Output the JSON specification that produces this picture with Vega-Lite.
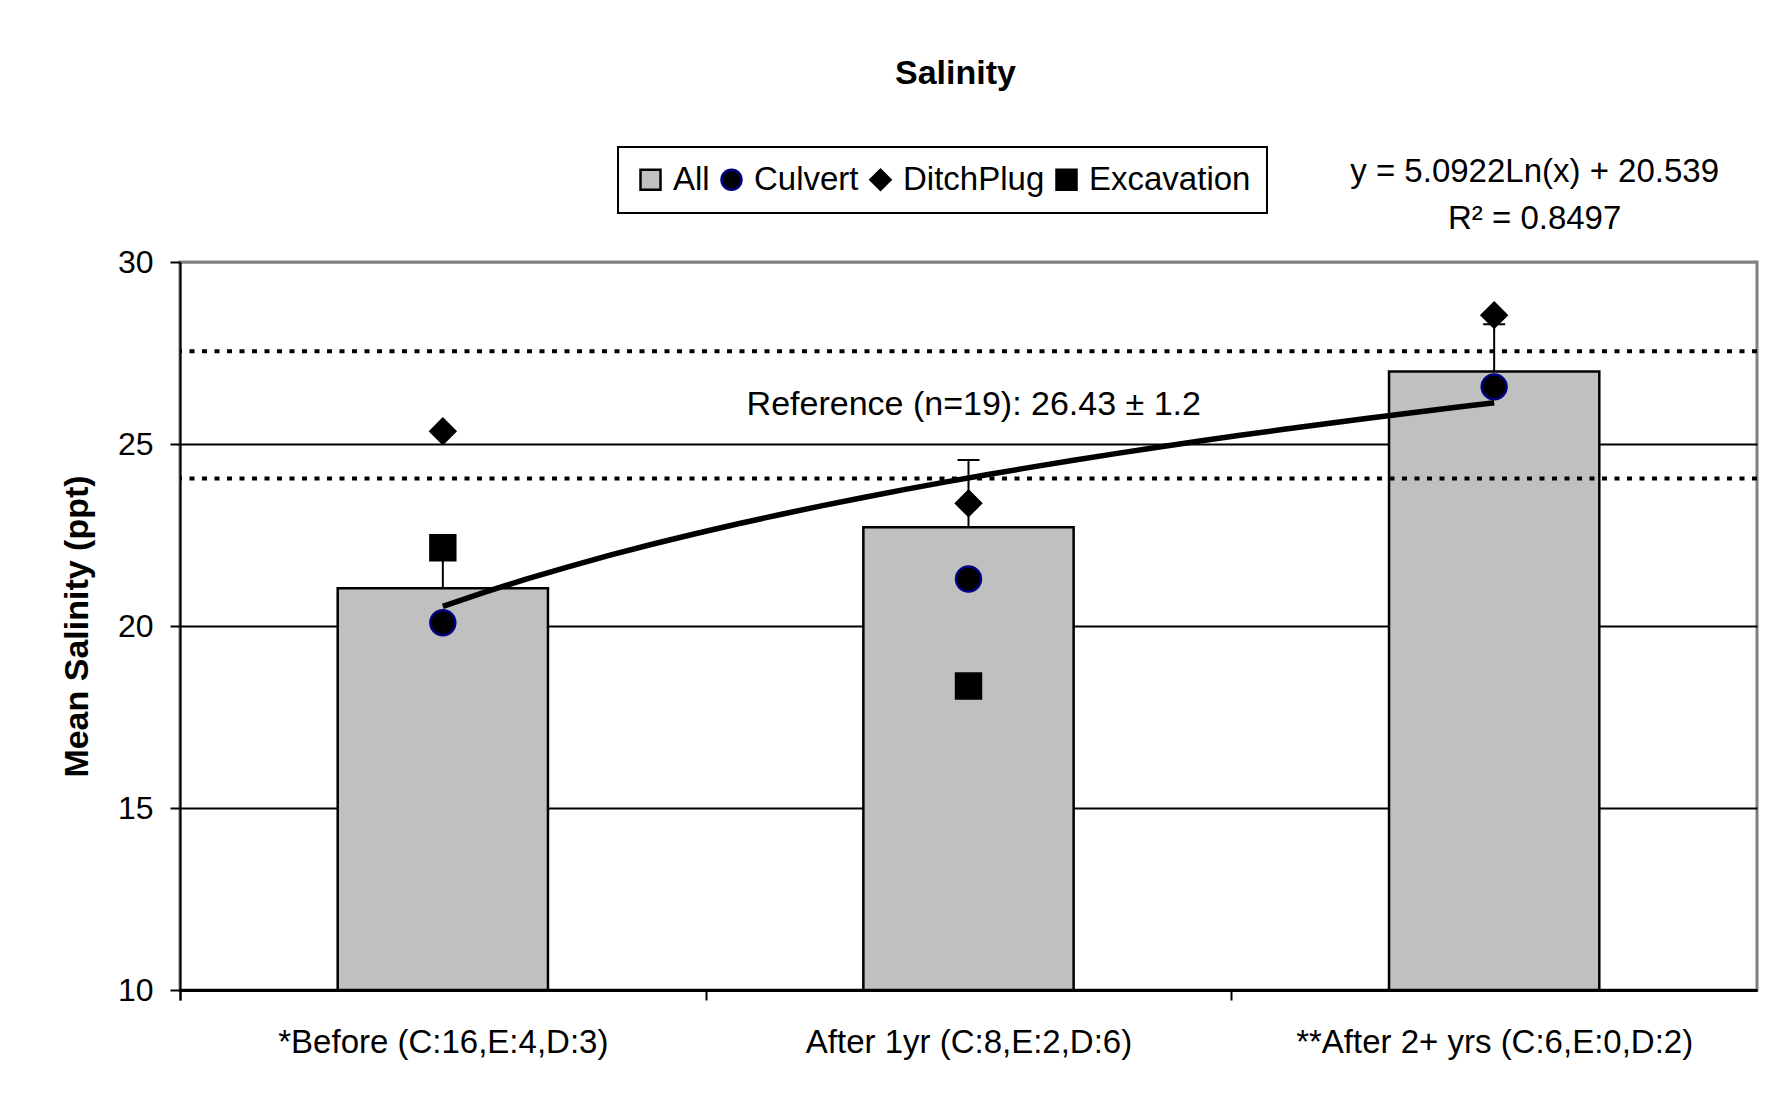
{
  "$schema": "https://vega.github.io/schema/vega-lite/v6.json",
  "width": 1577,
  "height": 728,
  "autosize": {"type": "none"},
  "padding": {"left": 180, "top": 262, "right": 34, "bottom": 112},
  "background": "white",
  "title": {
    "text": "Salinity",
    "font": "Liberation Sans",
    "fontSize": 34,
    "fontWeight": "bold",
    "color": "black",
    "anchor": "middle",
    "frame": "group",
    "offset": 55,
    "dx": -13
  },
  "config": {
    "font": "Liberation Sans",
    "view": {"stroke": "#808080", "strokeWidth": 3, "fill": "white"},
    "axis": {
      "labelFont": "Liberation Sans",
      "titleFont": "Liberation Sans",
      "labelColor": "black",
      "titleColor": "black",
      "domainColor": "black",
      "tickColor": "black",
      "labelFontSize": 32,
      "tickSize": 10,
      "tickWidth": 2,
      "domainWidth": 2
    },
    "legend": {
      "labelFont": "Liberation Sans",
      "labelFontSize": 33,
      "labelColor": "black",
      "labelLimit": 0,
      "symbolSize": 400,
      "symbolStrokeWidth": 2.5,
      "strokeColor": "black",
      "strokeWidth": 2,
      "fillColor": "white",
      "padding": 16,
      "labelOffset": 6,
      "columnPadding": 5
    }
  },
  "datasets": {
    "periods": [
      {"period": "*Before (C:16,E:4,D:3)", "idx": 1, "all": 21.04, "upper": 22.2},
      {"period": "After 1yr (C:8,E:2,D:6)", "idx": 2, "all": 22.71, "upper": 24.56},
      {"period": "**After 2+ yrs (C:6,E:0,D:2)", "idx": 3, "all": 26.99, "upper": 28.29}
    ],
    "sites": [
      {"period": "*Before (C:16,E:4,D:3)", "type": "Culvert", "salinity": 20.09},
      {"period": "*Before (C:16,E:4,D:3)", "type": "DitchPlug", "salinity": 25.35},
      {"period": "*Before (C:16,E:4,D:3)", "type": "Excavation", "salinity": 22.15},
      {"period": "After 1yr (C:8,E:2,D:6)", "type": "Culvert", "salinity": 21.29},
      {"period": "After 1yr (C:8,E:2,D:6)", "type": "DitchPlug", "salinity": 23.37},
      {"period": "After 1yr (C:8,E:2,D:6)", "type": "Excavation", "salinity": 18.35},
      {"period": "**After 2+ yrs (C:6,E:0,D:2)", "type": "Culvert", "salinity": 26.57},
      {"period": "**After 2+ yrs (C:6,E:0,D:2)", "type": "DitchPlug", "salinity": 28.54}
    ],
    "reference": [
      {"bound": "upper", "salinity": 27.55},
      {"bound": "lower", "salinity": 24.05}
    ]
  },
  "layer": [
    {
      "layer": [
        {
          "data": {"name": "periods"},
          "mark": {"type": "bar", "fill": "#c0c0c0", "stroke": "black", "strokeWidth": 2.5},
          "encoding": {
            "x": {
              "field": "period",
              "type": "nominal",
              "sort": null,
              "scale": {
                "domain": ["*Before (C:16,E:4,D:3)", "After 1yr (C:8,E:2,D:6)", "**After 2+ yrs (C:6,E:0,D:2)"],
                "paddingInner": 0.6,
                "paddingOuter": 0.3
              },
              "axis": {
                "title": null,
                "labelAngle": 0,
                "labelFontSize": 33,
                "labelPadding": 26,
                "labelLimit": 0,
                "labelOffset": 157.65,
                "ticks": true,
                "bandPosition": 0,
                "tickExtra": true,
                "tickOffset": -157.65,
                "tickSize": 10,
                "tickWidth": 2,
                "domainWidth": 3,
                "grid": false
              }
            },
            "y": {
              "field": "all",
              "type": "quantitative",
              "title": "Mean Salinity (ppt)",
              "scale": {"domain": [10, 30], "nice": false, "zero": false},
              "axis": {
                "values": [10, 15, 20, 25, 30],
                "titleFontSize": 34,
                "titleFontWeight": "bold",
                "titlePadding": 23,
                "labelPadding": 17,
                "grid": true,
                "gridWidth": 2,
                "gridColor": {"condition": {"test": "datum.value === 30", "value": "#808080"}, "value": "black"}
              }
            },
            "y2": {"datum": 10}
          }
        },
        {
          "data": {"name": "periods"},
          "mark": {"type": "rule", "stroke": "black", "strokeWidth": 2},
          "encoding": {
            "x": {"field": "period", "type": "nominal", "sort": null},
            "y": {"field": "all", "type": "quantitative", "title": "Mean Salinity (ppt)"},
            "y2": {"field": "upper"}
          }
        },
        {
          "data": {"name": "periods"},
          "mark": {"type": "tick", "color": "black", "thickness": 2, "size": 22, "opacity": 1},
          "encoding": {
            "x": {"field": "period", "type": "nominal", "sort": null},
            "y": {"field": "upper", "type": "quantitative", "title": "Mean Salinity (ppt)"}
          }
        },
        {
          "data": {"name": "reference"},
          "mark": {"type": "rule", "stroke": "black", "strokeWidth": 4, "strokeDash": [5, 7.5]},
          "encoding": {
            "y": {"field": "salinity", "type": "quantitative", "title": "Mean Salinity (ppt)"}
          }
        },
        {
          "data": {"name": "sites"},
          "mark": {"type": "point", "filled": true, "size": 620, "strokeWidth": 2.5, "opacity": 1},
          "encoding": {
            "x": {"field": "period", "type": "nominal", "sort": null},
            "y": {"field": "salinity", "type": "quantitative", "title": "Mean Salinity (ppt)"},
            "shape": {
              "field": "type",
              "type": "nominal",
              "scale": {"domain": ["All", "Culvert", "DitchPlug", "Excavation"], "range": ["square", "circle", "diamond", "square"]},
              "legend": {"title": null, "orient": "none", "direction": "horizontal", "legendX": 438, "legendY": -115}
            },
            "fill": {
              "field": "type",
              "type": "nominal",
              "scale": {"domain": ["All", "Culvert", "DitchPlug", "Excavation"], "range": ["#c0c0c0", "black", "black", "black"]},
              "legend": {"title": null, "orient": "none", "direction": "horizontal", "legendX": 438, "legendY": -115}
            },
            "stroke": {
              "field": "type",
              "type": "nominal",
              "scale": {"domain": ["All", "Culvert", "DitchPlug", "Excavation"], "range": ["black", "#000080", "black", "black"]},
              "legend": {"title": null, "orient": "none", "direction": "horizontal", "legendX": 438, "legendY": -115}
            }
          }
        }
      ]
    },
    {
      "layer": [
        {
          "data": {"name": "periods"},
          "transform": [{"regression": "all", "on": "idx", "method": "log", "extent": [1, 3]}],
          "mark": {"type": "line", "stroke": "black", "strokeWidth": 5.5},
          "encoding": {
            "x": {"field": "idx", "type": "quantitative", "scale": {"domain": [0.5, 3.5], "nice": false, "zero": false}, "axis": null},
            "y": {"field": "all", "type": "quantitative", "title": "Mean Salinity (ppt)"}
          }
        },
        {
          "data": {"values": [{}]},
          "mark": {"type": "text", "text": "Reference (n=19): 26.43 ± 1.2", "font": "Liberation Sans", "fontSize": 34, "color": "black", "align": "center", "baseline": "middle"},
          "encoding": {
            "x": {"datum": 2.01, "type": "quantitative"},
            "y": {"datum": 26.07, "type": "quantitative"}
          }
        },
        {
          "data": {"values": [{}]},
          "mark": {"type": "text", "text": ["y = 5.0922Ln(x) + 20.539", "R² = 0.8497"], "font": "Liberation Sans", "fontSize": 33, "lineHeight": 47, "color": "black", "align": "center", "baseline": "middle"},
          "encoding": {
            "x": {"datum": 3.077, "type": "quantitative"},
            "y": {"datum": 32.48, "type": "quantitative"}
          }
        }
      ]
    }
  ],
  "resolve": {"scale": {"x": "independent"}, "axis": {"x": "independent"}}
}
